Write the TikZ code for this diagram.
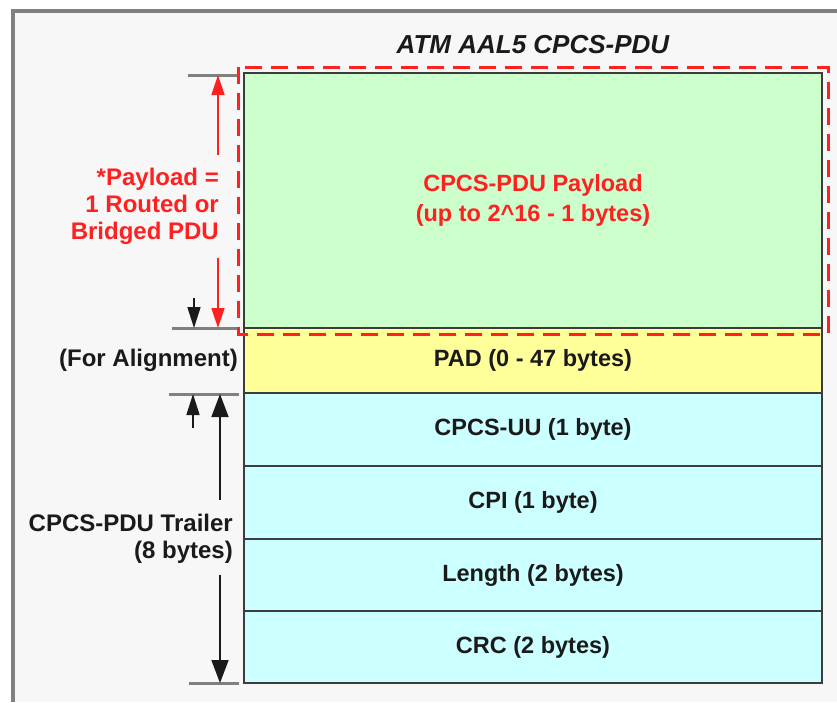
\documentclass[tikz,border=0pt]{standalone}
\usepackage{fontspec}
\setmainfont{Liberation Sans}
\usetikzlibrary{arrows.meta,positioning,calc}
\definecolor{Canvas}{HTML}{F7F7F7}
\definecolor{Rim}{HTML}{808080}
\definecolor{Ink}{HTML}{1A1A1A}
\definecolor{Alert}{HTML}{FF2020}
\definecolor{PayGreen}{HTML}{CCFFCC}
\definecolor{PadYellow}{HTML}{FFFF99}
\definecolor{TrailCyan}{HTML}{CCFFFF}
\tikzset{
  field/.style={draw=Ink!85,line width=1.6pt,minimum width=578pt,inner sep=0pt,outer sep=0pt,align=center,font=\fontsize{23.5}{30}\selectfont\bfseries,text=Ink},
  sidenote/.style={inner sep=0pt,align=right,font=\fontsize{24}{27}\selectfont\bfseries,text=Ink},
  tick/.style={draw=Rim,line width=3pt},
  dimarr/.style={-{Triangle[length=23pt,width=17pt]},draw=Ink,line width=1.6pt},
  smallarr/.style={-{Triangle[length=21pt,width=13pt]},draw=Ink,line width=1.6pt},
  redarr/.style={-{Triangle[length=20pt,width=13pt]},draw=Alert,line width=1.6pt},
  payframe/.style={draw=Alert,line width=3pt,dash pattern=on 17pt off 9pt}
}

\begin{document}
\begin{tikzpicture}[x=1pt,y=-1pt,node distance=0pt]
  \useasboundingbox (0,0) rectangle (837,702);
  \fill[Canvas] (13,11) rectangle (837,702);
  \draw[Rim,line width=4pt] (13,702) -- (13,11) -- (837,11);
  \node[font=\fontsize{26}{30}\selectfont\bfseries\itshape,text=Ink] (title) at (533,45) {ATM AAL5 CPCS-PDU};
  \node[field,fill=PayGreen,minimum height=255pt,anchor=north west,text=Alert] (payload) at (244,73) {CPCS-PDU Payload\\(up to 2\textasciicircum16 - 1 bytes)};
  \node[field,fill=PadYellow,minimum height=65pt,below=of payload] (pad) {PAD (0 - 47 bytes)};
  \node[field,fill=TrailCyan,minimum height=73pt,below=of pad] (uu) {CPCS-UU (1 byte)};
  \node[field,fill=TrailCyan,minimum height=73pt,below=of uu] (cpi) {CPI (1 byte)};
  \node[field,fill=TrailCyan,minimum height=72pt,below=of cpi] (len) {Length (2 bytes)};
  \node[field,fill=TrailCyan,minimum height=72pt,below=of len] (crc) {CRC (2 bytes)};
  \draw[payframe] ([xshift=-6pt,yshift=6pt]payload.north west) rectangle ([xshift=6pt,yshift=-6pt]payload.south east);
  \node[sidenote,text=Alert,anchor=east] (paynote) at (219,206) {*Payload =\\1 Routed or\\Bridged PDU};
  \node[sidenote,anchor=east] (alignnote) at (238,360) {(For Alignment)};
  \node[sidenote,anchor=east] (trailnote) at (233,539) {CPCS-PDU Trailer\\(8 bytes)};
  \coordinate (paytopL) at (188,75);
  \coordinate (paytopR) at (237,75);
  \coordinate (paybotL) at (172,328);
  \coordinate (paybotR) at (237,328);
  \coordinate (trltopL) at (169,394);
  \coordinate (trltopR) at (239,394);
  \coordinate (trlbotL) at (189,683);
  \coordinate (trlbotR) at (239,683);
  \draw[tick] (paytopL) -- (paytopR);
  \draw[tick] (paybotL) -- (paybotR);
  \draw[tick] (trltopL) -- (trltopR);
  \draw[tick] (trlbotL) -- (trlbotR);
  \coordinate (payup) at (218,155);
  \coordinate (paydn) at (218,258);
  \draw[redarr] (payup) -- (payup |- paytopL);
  \draw[redarr] (paydn) -- (paydn |- paybotL);
  \coordinate (padin) at (194,298);
  \coordinate (padout) at (193,428);
  \draw[smallarr] (padin) -- (padin |- paybotL);
  \draw[smallarr] (padout) -- (padout |- trltopL);
  \coordinate (trlup) at (220,500);
  \coordinate (trldn) at (220,575);
  \draw[dimarr] (trlup) -- (trlup |- trltopL);
  \draw[dimarr] (trldn) -- (trldn |- trlbotL);
\end{tikzpicture}
\end{document}
